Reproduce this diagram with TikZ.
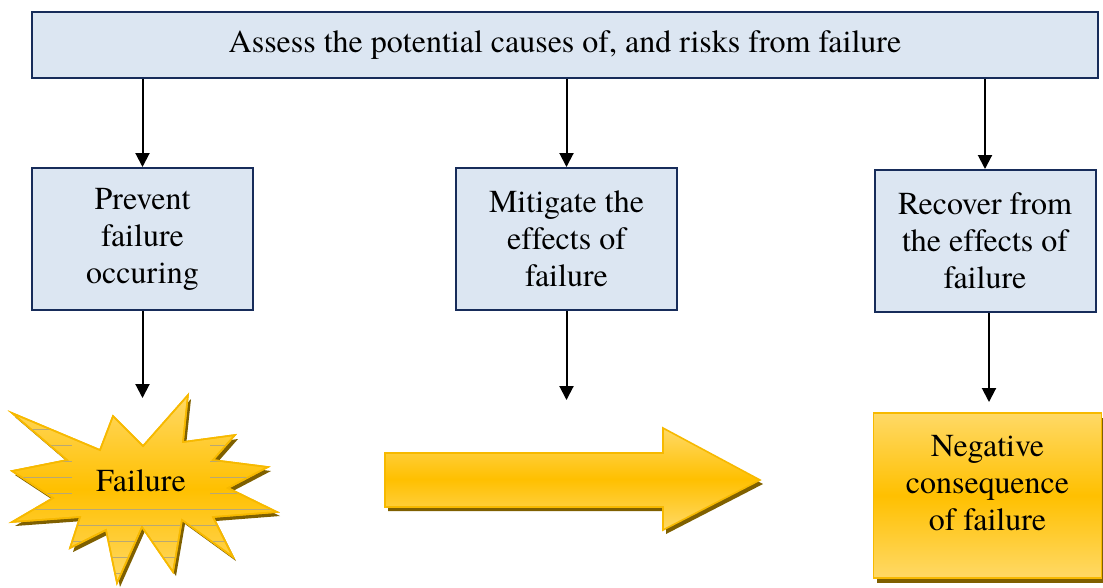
\documentclass[tikz,border=0pt]{standalone}
\usepackage{fontspec}
\newfontfamily\tnr{texgyretermes}[Extension=.otf, UprightFont=*-regular, BoldFont=*-bold, ItalicFont=*-italic, BoldItalicFont=*-bolditalic, Ligatures=NoCommon]
\usetikzlibrary{arrows.meta}
\definecolor{boxfill}{HTML}{DCE6F2}
\definecolor{boxline}{HTML}{172C5A}
\definecolor{goldmid}{HTML}{FFC000}
\definecolor{goldlight}{HTML}{FFD966}
\definecolor{goldline}{HTML}{F7B900}
\definecolor{goldshadow}{HTML}{7F6000}
\tikzset{
  bluebox/.style={draw=boxline, fill=boxfill, line width=1.5pt, rectangle, inner sep=0pt,
    align=center, font=\tnr\fontsize{24pt}{27.75pt}\selectfont},
  flow/.style={line width=1.5pt, -{Triangle[length=10.5pt,width=10.5pt]}},
  goldfill/.style={top color=goldlight, bottom color=goldlight, middle color=goldmid, draw=goldline, line width=1.2pt},
  txt/.style={font=\tnr\fontsize{24pt}{27.75pt}\selectfont, align=center, inner sep=0pt},
  texture/.style={goldshadow!55, line width=0.5pt}
}
\begin{document}
\begin{tikzpicture}[x=0.75pt,y=-0.75pt]
\useasboundingbox (0,0) rectangle (1103,587);
% top box
\node[bluebox, minimum width=799.5pt, minimum height=49.5pt] (top) at (565,45) {Assess the potential causes of, and risks from failure};
% three boxes
\node[bluebox, minimum width=165.75pt, minimum height=106.5pt] (b1) at (142.5,239) {Prevent\\failure\\occuring};
\node[bluebox, minimum width=165.75pt, minimum height=106.5pt] (b2) at (566.5,239) {Mitigate the\\effects of\\failure};
\node[bluebox, minimum width=165.75pt, minimum height=106.5pt] (b3) at (985,241) {Recover from\\the effects of\\failure};
% arrows from top
\draw[flow] (top.south -| b1.north) -- (b1.north);
\draw[flow] (top.south -| b2.north) -- (b2.north);
\draw[flow] (top.south -| b3.north) -- (b3.north);
% arrow ends
\coordinate (e1) at (142.5,398);
\coordinate (e2) at (566.5,400);
\coordinate (e3) at (989,402);
\draw[flow] (b1.south -| e1) -- (e1);
\draw[flow] (b2.south -| e2) -- (e2);
\draw[flow] (b3.south -| e3) -- (e3);
% starburst
\def\burst{(12,413) -- (100,450) -- (113,416) -- (143,446) -- (188,395) -- (183,442) -- (235,435) -- (213,460) -- (268,467) -- (228,488) -- (277,512) -- (213,517) -- (233,557) -- (182,520) -- (173,572) -- (142,527) -- (117,583) -- (106,530) -- (70,548) -- (80,517) -- (12,522) -- (53,498) -- (12,471) -- (67,460) -- cycle}
\begin{scope}[shift={(3,4)}]
\fill[goldshadow] \burst;
\end{scope}
\shade[goldfill] \burst;
\begin{scope}
\clip \burst;
\foreach \yy in {413,429,445,461,477,493} {
  \draw[texture] (10,\yy) -- (72,\yy);
  \draw[texture] (210,\yy) -- (280,\yy);
}
\foreach \yy in {509,525,541,557,573} {
  \draw[texture] (10,\yy) -- (280,\yy);
}
\end{scope}
\draw[goldline, line width=1.2pt] \burst;
\node[txt] (fail) at (141,481) {Failure};
% big arrow
\def\bigarrow{(385,453) -- (663,453) -- (663,428) -- (760,480) -- (663,530) -- (663,507) -- (385,507) -- cycle}
\begin{scope}[shift={(3,4)}]
\fill[goldshadow] \bigarrow;
\end{scope}
\shade[goldfill] \bigarrow;
% negative consequence box
\fill[goldshadow] (877,418) rectangle (1103,583);
\node[goldfill, rectangle, minimum width=171pt, minimum height=123.75pt, line width=1.2pt, draw=goldline] (neg) at (987.5,495.5) {};
\node[txt] (negtxt) at ([yshift=9.5pt]neg.center) {Negative\\consequence\\of failure};
\end{tikzpicture}
\end{document}
